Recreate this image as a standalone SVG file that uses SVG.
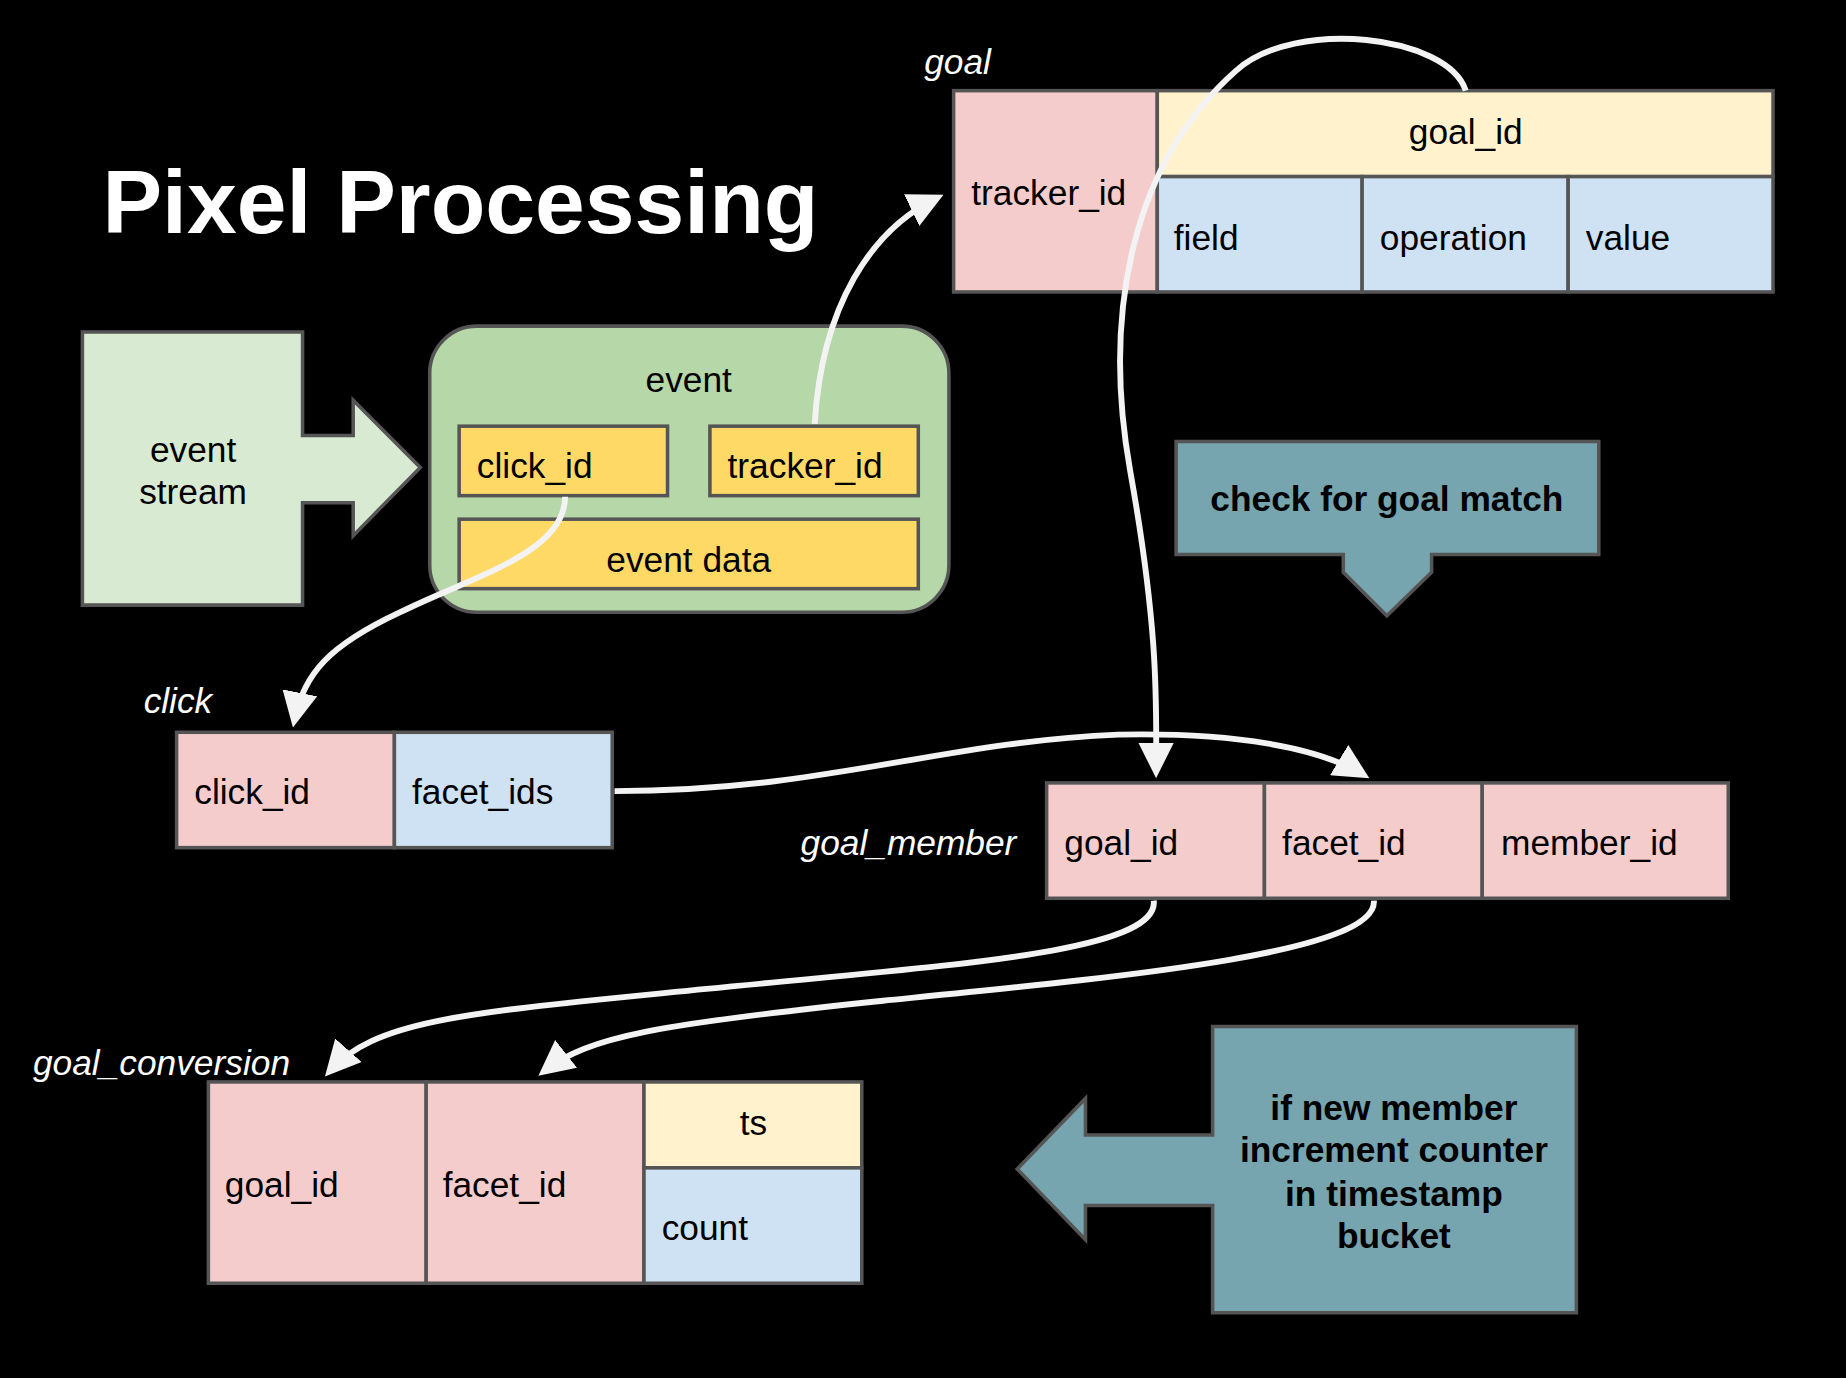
<svg xmlns="http://www.w3.org/2000/svg" width="1846" height="1378" viewBox="0 0 1846 1378">
<style>
text{font-family:"Liberation Sans",Arial,sans-serif;font-size:30px;fill:#000}
.c{stroke:#555;stroke-width:3}
.pk{fill:#f4cccc}.bl{fill:#cfe2f3}.ye{fill:#fff2cc}.or{fill:#ffd966}.tl{fill:#76a5af}
.lab{fill:#fff;font-style:italic}
.b{font-weight:bold}
.con{fill:none;stroke:#f3f3f3;stroke-width:5;marker-end:url(#ah)}
</style>
<defs><marker id="ah" viewBox="0 0 10 10" refX="8" refY="5" markerWidth="6" markerHeight="6" markerUnits="strokeWidth" orient="auto"><path d="M0,0 L10,5 L0,10 z" fill="#f3f3f3"/></marker></defs>
<rect width="1846" height="1378" fill="#000"/>
<g transform="scale(1.1773)">
<text x="87" y="198" style="font-size:76px;font-weight:bold;fill:#fff">Pixel Processing</text>
<g id="goal">
<text x="785" y="63" class="lab">goal</text>
<rect x="810" y="77" width="173" height="171" class="pk c"/>
<rect x="983" y="77" width="523" height="73" class="ye c"/>
<rect x="983" y="150" width="174" height="98" class="bl c"/>
<rect x="1157" y="150" width="175" height="98" class="bl c"/>
<rect x="1332" y="150" width="174" height="98" class="bl c"/>
<text x="825" y="174">tracker_id</text>
<text x="1245" y="122" text-anchor="middle">goal_id</text>
<text x="997" y="212">field</text>
<text x="1172" y="212">operation</text>
<text x="1347" y="212">value</text>
</g>
<g id="event_stream">
<polygon points="70,282 257,282 257,370 300,370 300,340 357,397 300,455 300,427 257,427 257,514 70,514" fill="#d9ead3" class="c"/>
<text x="164" y="392" text-anchor="middle">event</text>
<text x="164" y="428" text-anchor="middle">stream</text>
</g>
<g id="event">
<rect x="365" y="277" width="441" height="243" rx="40" fill="#b6d7a8" class="c"/>
<text x="585" y="333" text-anchor="middle">event</text>
<rect x="390" y="362" width="177" height="59" class="or c"/>
<rect x="603" y="362" width="177" height="59" class="or c"/>
<rect x="390" y="441" width="390" height="59" class="or c"/>
<text x="405" y="406">click_id</text>
<text x="618" y="406">tracker_id</text>
<text x="585" y="486" text-anchor="middle">event data</text>
</g>
<g id="check">
<polygon points="999,375 1358,375 1358,471 1216,471 1216,486 1178,523 1141,486 1141,471 999,471" class="tl c"/>
<text x="1178" y="434" text-anchor="middle" class="b">check for goal match</text>
</g>
<g id="click">
<text x="122" y="606" class="lab">click</text>
<rect x="150" y="622" width="185" height="98" class="pk c"/>
<rect x="335" y="622" width="185" height="98" class="bl c"/>
<text x="165" y="683">click_id</text>
<text x="350" y="683">facet_ids</text>
</g>
<g id="goal_member">
<text x="680" y="726" class="lab">goal_member</text>
<rect x="889" y="665" width="185" height="98" class="pk c"/>
<rect x="1074" y="665" width="185" height="98" class="pk c"/>
<rect x="1259" y="665" width="209" height="98" class="pk c"/>
<text x="904" y="726">goal_id</text>
<text x="1089" y="726">facet_id</text>
<text x="1275" y="726">member_id</text>
</g>
<g id="goal_conversion">
<text x="28" y="913" class="lab">goal_conversion</text>
<rect x="177" y="919" width="185" height="171" class="pk c"/>
<rect x="362" y="919" width="185" height="171" class="pk c"/>
<rect x="547" y="919" width="185" height="73" class="ye c"/>
<rect x="547" y="992" width="185" height="98" class="bl c"/>
<text x="191" y="1017">goal_id</text>
<text x="376" y="1017">facet_id</text>
<text x="640" y="964" text-anchor="middle">ts</text>
<text x="562" y="1053">count</text>
</g>
<g id="increment">
<polygon points="1030,872 1339,872 1339,1115 1030,1115 1030,1024 922,1024 922,1053 864,993 922,933 922,964 1030,964" class="tl c"/>
<text x="1184" y="951" text-anchor="middle" class="b">if new member</text>
<text x="1184" y="987" text-anchor="middle" class="b">increment counter</text>
<text x="1184" y="1024" text-anchor="middle" class="b">in timestamp</text>
<text x="1184" y="1060" text-anchor="middle" class="b">bucket</text>
</g>
<g id="connectors">
<path class="con" d="M692,360 C698,260 740,195 796,168"/>
<path class="con" d="M1245,77 C1230,30 1100,15 1050,60 C965,135 935,260 960,400 C985,540 982,600 982,655"/>
<path class="con" d="M480,422 C480,470 400,490 340,520 C280,548 258,572 250,612"/>
<path class="con" d="M522,672 C700,672 800,630 950,624 C1050,622 1120,635 1158,658"/>
<path class="con" d="M980,765 C985,810 800,820 600,840 C400,860 320,865 280,910"/>
<path class="con" d="M1167,765 C1170,810 950,830 750,850 C560,870 500,880 462,910"/>
</g>
</g>
</svg>
